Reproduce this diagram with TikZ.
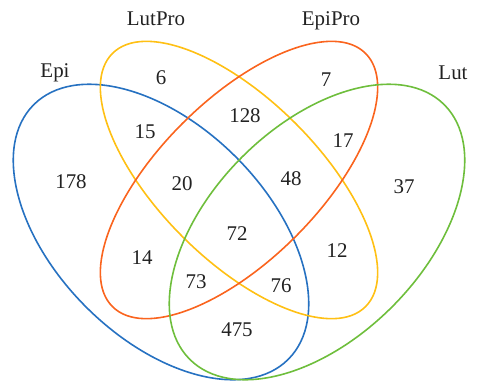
\documentclass[tikz,border=0pt]{standalone}
\usepackage{fontspec}
\setmainfont{Liberation Serif}
\definecolor{cblue}{RGB}{38,113,193}
\definecolor{cyellow}{RGB}{255,192,20}
\definecolor{corange}{RGB}{250,100,30}
\definecolor{cgreen}{RGB}{110,190,60}
\definecolor{ctext}{RGB}{34,34,34}
\begin{document}
\begin{tikzpicture}[x=1bp,y=1bp,
  setline/.style={line width=1.6bp},
  lbl/.style={text=ctext,font=\fontsize{21}{25}\selectfont,inner sep=0pt}]
\useasboundingbox (0,0) rectangle (477,-381);
\coordinate (cEpi) at (161,-232);
\coordinate (cLutPro) at (239,-180);
\coordinate (cEpiPro) at (239,-180);
\coordinate (cLut) at (317,-232);
\draw[setline,cblue,rotate around={-45:(cEpi)}] (cEpi) ellipse [x radius=180,y radius=106];
\draw[setline,cyellow,rotate around={-45:(cLutPro)}] (cLutPro) ellipse [x radius=179,y radius=80];
\draw[setline,corange,rotate around={45:(cEpiPro)}] (cEpiPro) ellipse [x radius=179,y radius=80];
\draw[setline,cgreen,rotate around={45:(cLut)}] (cLut) ellipse [x radius=180,y radius=106];
\node[lbl] (tEpi) at (55,-73) {Epi};
\node[lbl] (tLutPro) at (156,-19) {LutPro};
\node[lbl] (tEpiPro) at (331,-21) {EpiPro};
\node[lbl] (tLut) at (453,-73) {Lut};
\node[lbl] (n6) at (161,-78) {6};
\node[lbl] (n15) at (145,-132) {15};
\node[lbl] (n178) at (71,-182) {178};
\node[lbl] (n128) at (245,-116) {128};
\node[lbl] (n7) at (326,-80) {7};
\node[lbl] (n17) at (343,-141) {17};
\node[lbl] (n37) at (404,-187) {37};
\node[lbl] (n20) at (182,-184) {20};
\node[lbl] (n48) at (291,-179) {48};
\node[lbl] (n72) at (237,-234) {72};
\node[lbl] (n14) at (142,-258) {14};
\node[lbl] (n12) at (337,-251) {12};
\node[lbl] (n73) at (196,-282) {73};
\node[lbl] (n76) at (281,-286) {76};
\node[lbl] (n475) at (237,-330) {475};
\end{tikzpicture}
\end{document}
